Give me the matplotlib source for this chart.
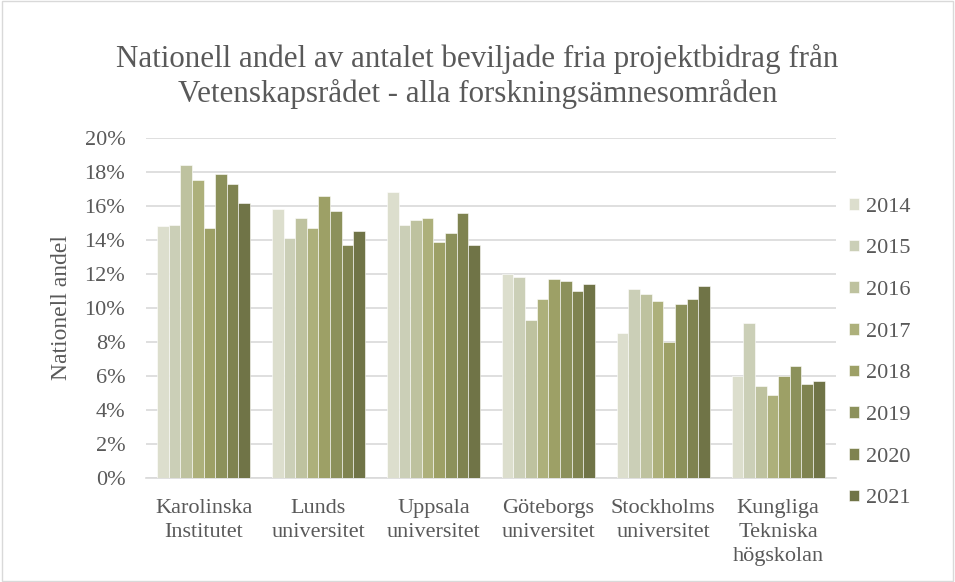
import numpy as np
import matplotlib.pyplot as plt
from matplotlib.patches import Rectangle

plt.rcParams['font.family'] = ['Liberation Serif', 'DejaVu Serif']

universities = ['Karolinska\nInstitutet', 'Lunds\nuniversitet', 'Uppsala\nuniversitet',
                'Göteborgs\nuniversitet', 'Stockholms\nuniversitet', 'Kungliga\nTekniska\nhögskolan']
years = ['2014', '2015', '2016', '2017', '2018', '2019', '2020', '2021']

# andel i procent, en lista per år (ordning som universities)
v2014 = [14.8, 15.8, 16.8, 12.0, 8.5, 6.0]
v2015 = [14.9, 14.1, 14.9, 11.8, 11.1, 9.1]
v2016 = [18.4, 15.3, 15.2, 9.3, 10.8, 5.4]
v2017 = [17.5, 14.7, 15.3, 10.5, 10.4, 4.9]
v2018 = [14.7, 16.6, 13.9, 11.7, 8.0, 6.0]
v2019 = [17.9, 15.7, 14.4, 11.6, 10.2, 6.6]
v2020 = [17.3, 13.7, 15.6, 11.0, 10.5, 5.5]
v2021 = [16.2, 14.5, 13.7, 11.4, 11.3, 5.7]
series = [v2014, v2015, v2016, v2017, v2018, v2019, v2020, v2021]

colors = ['#dcdecd', '#cbcfb7', '#bec29f', '#adb07b', '#9da066', '#8c915b', '#7f8350', '#707447']
txt = '#595959'

fig = plt.figure(figsize=(9.55, 5.82), dpi=100)
ax = fig.add_axes([0.153, 0.179, 0.722, 0.584])

x = np.arange(len(universities))
w = 0.81 / 8
for i, vals in enumerate(series):
    ax.bar(x - 0.405 + w * (i + 0.5), vals, width=w, color=colors[i],
           edgecolor='white', linewidth=0.4, label=years[i], zorder=3)

ax.set_xlim(-0.5, len(universities) - 0.5)
ax.set_ylim(0, 20)
ax.set_yticks(range(0, 21, 2))
ax.set_yticklabels([f'{t}%' for t in range(0, 21, 2)], fontsize=16, color=txt)
ax.set_xticks(x)
ax.set_xticklabels(universities, fontsize=16, color=txt, linespacing=1.38)
ax.tick_params(axis='y', length=0, pad=15)
ax.tick_params(axis='x', length=0, pad=15)
ax.grid(axis='y', color='#d9d9d9', linewidth=1.2, zorder=0)
for s in ['top', 'right', 'left']:
    ax.spines[s].set_visible(False)
ax.spines['bottom'].set_color('#d9d9d9')
ax.spines['bottom'].set_linewidth(1.2)

ax.set_ylabel('Nationell andel', fontsize=17, color=txt, labelpad=9)

fig.text(0.5, 0.869, 'Nationell andel av antalet beviljade fria projektbidrag från\n'
         'Vetenskapsrådet - alla forskningsämnesområden',
         ha='center', va='center', fontsize=22.3, color=txt, linespacing=1.2)

ax.legend(loc='center left', bbox_to_anchor=(1.0, 0.367), frameon=False, fontsize=16,
          labelcolor=txt, handlelength=0.45, handleheight=0.45, handletextpad=0.3,
          labelspacing=1.02, borderaxespad=0.2)

fig.patches.append(Rectangle((0.002, 0.002), 0.996, 0.996, transform=fig.transFigure,
                             fill=False, edgecolor='#d9d9d9', linewidth=1))

fig.savefig('out.png', dpi=100)
